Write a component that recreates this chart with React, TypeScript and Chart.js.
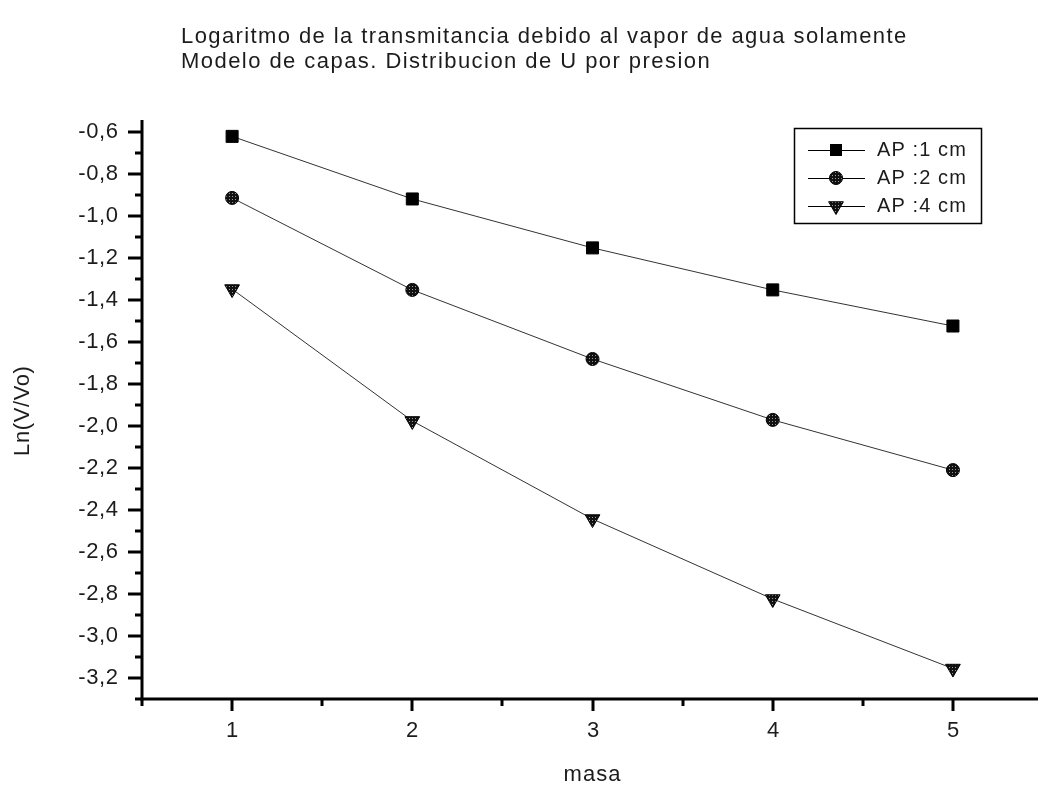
import React, { useEffect, useRef } from "react";
import { Chart, registerables } from "chart.js";

Chart.register(...registerables);

const masa = [1, 2, 3, 4, 5];
const seriesNames = ["AP :1 cm", "AP :2 cm", "AP :4 cm"];
const ap1 = [-0.621, -0.919, -1.152, -1.352, -1.524];
const ap2 = [-0.914, -1.352, -1.681, -1.971, -2.21];
const ap4 = [-1.348, -1.976, -2.443, -2.824, -3.155];
const yTickValues = [-0.6, -0.8, -1.0, -1.2, -1.4, -1.6, -1.8, -2.0, -2.2, -2.4, -2.6, -2.8, -3.0, -3.2];
const yTickLabels = ["-0,6", "-0,8", "-1,0", "-1,2", "-1,4", "-1,6", "-1,8", "-2,0", "-2,2", "-2,4", "-2,6", "-2,8", "-3,0", "-3,2"];
const yMinorTicks = [-0.7, -0.9, -1.1, -1.3, -1.5, -1.7, -1.9, -2.1, -2.3, -2.5, -2.7, -2.9, -3.1, -3.3];
const xTickValues = [1, 2, 3, 4, 5];
const xTickLabels = ["1", "2", "3", "4", "5"];
const xMinorTicks = [0.5, 1.5, 2.5, 3.5, 4.5, 5.5];
const titleLines = [
  "Logaritmo de la transmitancia debido al vapor de agua solamente",
  "Modelo de capas. Distribucion de U por presion",
];
const xTitle = "masa";
const yTitle = "Ln(V/Vo)";

const FONT = "'Liberation Sans', Arial, sans-serif";
const TEXT = "#1c1c1c";

export default function App() {
  const ref = useRef<HTMLCanvasElement>(null);

  useEffect(() => {
    document.body.style.margin = "0";
    const canvas = ref.current!;
    const ctx0 = canvas.getContext("2d")!;

    const pc = document.createElement("canvas");
    pc.width = 3;
    pc.height = 3;
    const pctx = pc.getContext("2d")!;
    pctx.fillStyle = "#111";
    pctx.fillRect(0, 0, 3, 3);
    pctx.fillStyle = "#9a9a9a";
    pctx.fillRect(1, 1, 1, 1);
    const pattern = ctx0.createPattern(pc, "repeat")!;

    const text = (ctx: CanvasRenderingContext2D, s: string, x: number, y: number, size: number, spacing: number, align: "left" | "center" | "right") => {
      ctx.save();
      ctx.font = `${size}px ${FONT}`;
      (ctx as any).letterSpacing = `${spacing}px`;
      ctx.fillStyle = TEXT;
      ctx.textBaseline = "middle";
      const w = ctx.measureText(s).width - spacing;
      let x0 = x;
      if (align === "center") x0 = x - w / 2;
      if (align === "right") x0 = x - w;
      ctx.textAlign = "left";
      ctx.fillText(s, x0, y);
      ctx.restore();
    };

    const drawMarker = (ctx: CanvasRenderingContext2D, kind: number, x: number, y: number) => {
      ctx.save();
      ctx.lineWidth = 1;
      ctx.strokeStyle = "#000";
      if (kind === 0) {
        ctx.fillStyle = "#000";
        ctx.fillRect(x - 6, y - 6, 12, 12);
      } else if (kind === 1) {
        ctx.fillStyle = pattern;
        ctx.beginPath();
        ctx.arc(x, y, 6.5, 0, Math.PI * 2);
        ctx.fill();
        ctx.stroke();
      } else {
        const r = 8.5;
        ctx.fillStyle = pattern;
        ctx.beginPath();
        ctx.moveTo(x, y + r);
        ctx.lineTo(x - r * 0.866, y - r / 2);
        ctx.lineTo(x + r * 0.866, y - r / 2);
        ctx.closePath();
        ctx.fill();
        ctx.stroke();
      }
      ctx.restore();
    };

    const decor = {
      id: "decor",
      afterDraw(chart: any) {
        const ctx: CanvasRenderingContext2D = chart.ctx;
        const { left, top, right, bottom } = chart.chartArea;
        const xs = chart.scales.x;
        const ys = chart.scales.y;
        ctx.save();
        ctx.fillStyle = "#000";
        // axes
        ctx.fillRect(left - 1.5, top, 3, bottom - top + 1.5);
        ctx.fillRect(left - 1.5, bottom - 1.5, right - left + 1.5, 3);
        // y ticks
        yTickValues.forEach((v, i) => {
          const py = Math.round(ys.getPixelForValue(v));
          ctx.fillStyle = "#000";
          ctx.fillRect(left - 14, py - 1.5, 14, 3);
          text(ctx, yTickLabels[i], 118, py, 22, 0.6, "right");
        });
        yMinorTicks.forEach((v) => {
          const py = Math.round(ys.getPixelForValue(v));
          ctx.fillStyle = "#000";
          ctx.fillRect(left - 7, py - 1.5, 7, 3);
        });
        // x ticks
        xTickValues.forEach((v, i) => {
          const px = Math.round(xs.getPixelForValue(v));
          ctx.fillStyle = "#000";
          ctx.fillRect(px - 1.5, bottom, 3, 12);
          text(ctx, xTickLabels[i], px, 731, 22, 0, "center");
        });
        xMinorTicks.forEach((v) => {
          const px = Math.round(xs.getPixelForValue(v));
          ctx.fillStyle = "#000";
          ctx.fillRect(px - 1.5, bottom, 3, 7);
        });
        // titles
        text(ctx, titleLines[0], 181, 37, 22, 1.4, "left");
        text(ctx, titleLines[1], 181, 62, 22, 1.45, "left");
        text(ctx, xTitle, 592, 775, 22, 1.0, "center");
        ctx.save();
        ctx.translate(23, 411);
        ctx.rotate(-Math.PI / 2);
        text(ctx, yTitle, 0, 0, 22, 0.6, "center");
        ctx.restore();
        // legend
        ctx.strokeStyle = "#000";
        ctx.lineWidth = 1.5;
        ctx.strokeRect(794.5, 128.5, 187, 95);
        const rows = [150, 178, 206];
        rows.forEach((ry, i) => {
          ctx.strokeStyle = "#000";
          ctx.lineWidth = 1;
          ctx.beginPath();
          ctx.moveTo(808, ry + 0.5);
          ctx.lineTo(865, ry + 0.5);
          ctx.stroke();
          drawMarker(ctx, i, 836, ry);
          text(ctx, seriesNames[i], 877, ry, 20, 1.1, "left");
        });
        ctx.restore();
      },
    };

    const mk = (label: string, data: number[], style: any, radius: number, rotation: number, fill: any) => ({
      label,
      data: masa.map((m, i) => ({ x: m, y: data[i] })),
      borderColor: "#333",
      borderWidth: 1,
      pointStyle: style,
      pointRadius: radius,
      pointRotation: rotation,
      pointBackgroundColor: fill,
      pointBorderColor: "#000",
      pointBorderWidth: 1,
      tension: 0,
    });

    const chart = new Chart(canvas, {
      type: "line",
      data: {
        datasets: [
          mk(seriesNames[0], ap1, "rect", 8.5, 0, "#000"),
          mk(seriesNames[1], ap2, "circle", 6.5, 0, pattern),
          mk(seriesNames[2], ap4, "triangle", 8.5, 180, pattern),
        ],
      },
      options: {
        animation: false,
        responsive: false,
        maintainAspectRatio: false,
        layout: { autoPadding: false, padding: { left: 142, top: 120, right: 0, bottom: 90 } },
        plugins: { legend: { display: false }, tooltip: { enabled: false }, title: { display: false } },
        scales: {
          x: { type: "linear", display: false, min: 0.5, max: 5.472 },
          y: { type: "linear", display: false, min: -3.3, max: -0.543 },
        },
      },
      plugins: [decor],
    });
    return () => chart.destroy();
  }, []);

  return <canvas ref={ref} width={1038} height={789} style={{ display: "block", background: "#fff" }} />;
}
